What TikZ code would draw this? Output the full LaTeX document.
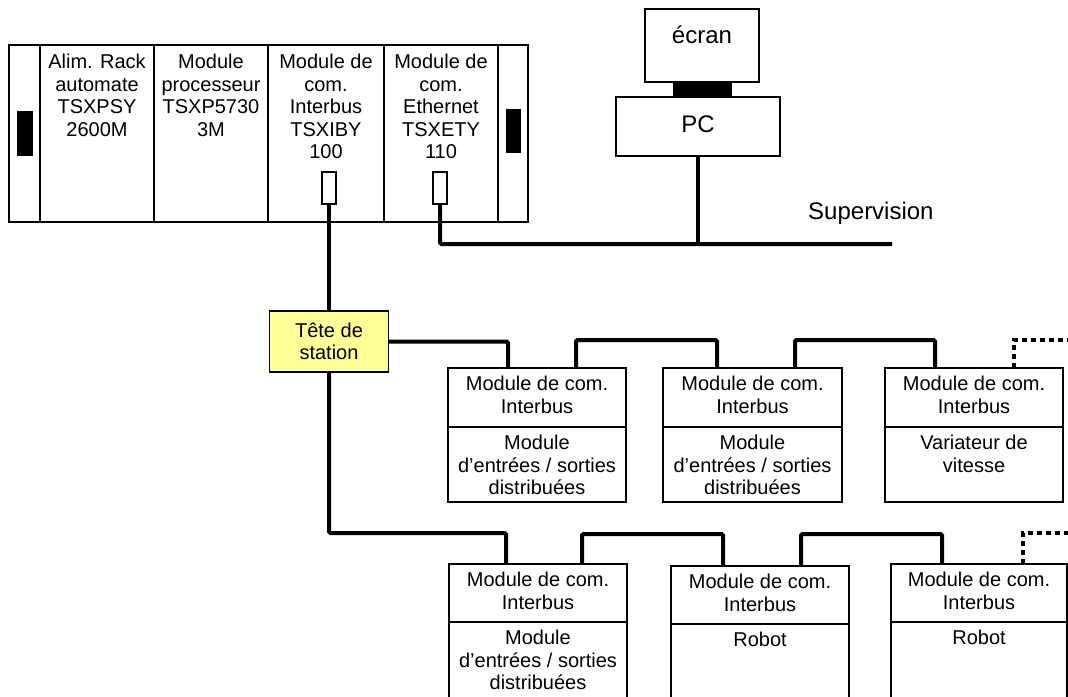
\documentclass[tikz,border=0pt]{standalone}
\usepackage{fontspec}
\setmainfont{Liberation Sans}
\usetikzlibrary{calc}
\definecolor{teteyellow}{HTML}{FFFF99}
\newcommand\modbox[8]{%
  \node[box, minimum width=#4pt, minimum height=#6pt] (#1) at (#2,#3) {};
  \draw[line width=1.5pt] ($(#1.north west)+(0,#5)$) -- ($(#1.north east)+(0,#5)$);
  \node[lbl] (#1t) at ($(#1.north)+(0,8)$) {#7};
  \node[lbl] (#1b) at ($(#1.north)+(0,#5+8)$) {#8};
}
\begin{document}
\begin{tikzpicture}[x=1pt,y=-1pt,
  box/.style={draw, line width=1.5pt, fill=white, inner sep=0pt, outer sep=0pt, anchor=north west},
  lbl/.style={inner sep=0pt, anchor=north, align=center, font=\fontsize{20}{22.5}\selectfont},
  big/.style={inner sep=0pt, font=\fontsize{24}{27}\selectfont},
  bus/.style={line width=4pt, rounded corners=1.5pt},
  busdot/.style={line width=4pt, dash pattern=on 5pt off 4pt},
  port/.style={draw, line width=1.2pt, fill=white, minimum width=14pt, minimum height=32pt, inner sep=0pt, outer sep=0pt},
  slot/.style={fill=black, draw=none, inner sep=0pt, outer sep=0pt}]
\clip (0,0) rectangle (1068,696);
\fill[white] (0,0) rectangle (1068,696);

% ---- rack ----
\node[box, line width=2pt, minimum width=519pt, minimum height=177pt] (rack) at (9,45) {};
\foreach \x in {40,154,268,384,498}
  \draw[line width=1.5pt] (\x,45) -- (\x,222);
\node[slot, minimum width=16pt, minimum height=45pt] (slotL) at (25,133.5) {};
\node[slot, minimum width=15pt, minimum height=44pt] (slotR) at (513.5,131) {};
\node[lbl] (c1) at (97,54) {Alim. Rack\\automate\\TSXPSY\\2600M};
\node[lbl] (c2) at (211,54) {Module\\processeur\\TSXP5730\\3M};
\node[lbl] (c3) at (326,54) {Module de\\com.\\Interbus\\TSXIBY\\100};
\node[lbl] (c4) at (441,54) {Module de\\com.\\Ethernet\\TSXETY\\110};
\node[port] (p1) at (329,188) {};
\node[port] (p2) at (440,188) {};

% ---- PC ----
\node[box, minimum width=114pt, minimum height=73pt] (ecran) at (645,9) {};
\node[big, anchor=base] (ecranT) at (702,43) {écran};
\node[box, minimum width=164pt, minimum height=59pt] (pc) at (616,97) {};
\node[big, anchor=base] (pcT) at (698,132) {PC};
\node[slot, anchor=north west, minimum width=59pt, minimum height=15pt] (stand) at (673,82) {};
\coordinate (lan) at (892,244);
\node[big, anchor=base west] (sup) at (808,219) {Supervision};

% ---- Tete de station ----
\node[draw, line width=1.5pt, fill=teteyellow, minimum width=119pt, minimum height=61pt,
      align=center, inner sep=0pt, outer sep=0pt, font=\fontsize{20}{22.5}\selectfont] (tete) at (329,341.5) {Tête de\\station};

% ---- modules ----
\modbox{b1}{448}{368}{178}{59}{134}{Module de com.\\Interbus}{Module\\d’entrées / sorties\\distribuées}
\modbox{b2}{663}{368}{179}{59}{134}{Module de com.\\Interbus}{Module\\d’entrées / sorties\\distribuées}
\modbox{b3}{885}{368}{178}{59}{134}{Module de com.\\Interbus}{Variateur de\\vitesse}
\modbox{b4}{449}{564}{178}{58}{150}{Module de com.\\Interbus}{Module\\d’entrées / sorties\\distribuées}
\modbox{b5}{671}{566}{178}{58}{150}{Module de com.\\Interbus}{Robot}
\modbox{b6}{891}{564}{176}{58}{150}{Module de com.\\Interbus}{Robot}

\coordinate (b1in)  at ($(b1.north west)+(60,0)$);
\coordinate (b1out) at ($(b1.north west)+(128,0)$);
\coordinate (b2in)  at ($(b2.north west)+(54,0)$);
\coordinate (b2out) at ($(b2.north west)+(132,0)$);
\coordinate (b3in)  at ($(b3.north west)+(50,0)$);
\coordinate (b3out) at ($(b3.north west)+(129,0)$);
\coordinate (b4in)  at ($(b4.north west)+(57,0)$);
\coordinate (b4out) at ($(b4.north west)+(133,0)$);
\coordinate (b5in)  at ($(b5.north west)+(52,0)$);
\coordinate (b5out) at ($(b5.north west)+(130,0)$);
\coordinate (b6in)  at ($(b6.north west)+(51,0)$);
\coordinate (b6out) at ($(b6.north west)+(132,0)$);

% ---- connectors ----
\draw[bus] (p1.south) -- (tete.north);
\draw[bus] (p2.south) |- (lan);
\draw[bus] (pc.south) -- (pc.south |- lan);
\draw[bus] (tete.east) -| (b1in);
\draw[bus] (b1out) -- ++(0,-28) -| (b2in);
\draw[bus] (b2out) -- ++(0,-28) -| (b3in);
\draw[busdot] (b3out) -- ++(0,-28) -- ++(70,0);
\draw[bus] (tete.south) |- ($(b4in)+(0,-31)$) -- (b4in);
\draw[bus] (b4out) -- ++(0,-30) -| (b5in);
\draw[bus] (b5out) -- ++(0,-32) -| (b6in);
\draw[busdot] (b6out) -- ++(0,-31) -- ++(60,0);
\end{tikzpicture}
\end{document}
